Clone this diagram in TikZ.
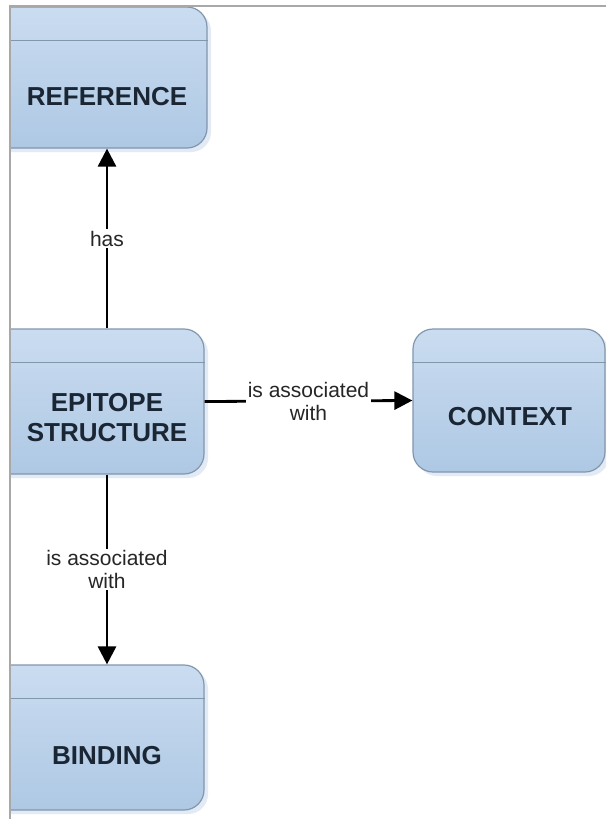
\documentclass[tikz,border=0pt]{standalone}
\usepackage{fontspec}
\setmainfont{Liberation Sans}
\usetikzlibrary{shadows,arrows.meta}
\definecolor{boxtop}{HTML}{CADCF0}
\definecolor{boxbot}{HTML}{AEC8E4}
\definecolor{boxedge}{HTML}{8296AD}
\definecolor{shadowc}{HTML}{E2EBF5}
\definecolor{textc}{HTML}{1B2634}
\definecolor{framec}{HTML}{A8A8A8}
\begin{document}
\begin{tikzpicture}[x=1pt,y=-1pt,
  box/.style={draw=boxedge, line width=1.2pt, rounded corners=20pt,
    top color=boxtop, bottom color=boxbot, inner sep=0pt,
    drop shadow={shadow xshift=4pt, shadow yshift=-4pt, fill=shadowc, opacity=1}},
  divider/.style={draw=boxedge, line width=1.2pt},
  title/.style={font=\fontsize{26}{30}\selectfont\bfseries, text=textc, align=center, inner sep=0pt},
  lab/.style={font=\fontsize{21}{23}\selectfont, text=black!85, fill=white, inner sep=1.5pt, align=center},
  conn/.style={line width=2.8pt, -{Triangle[length=18pt,width=18pt]}}]
\useasboundingbox (0,0) rectangle (606,819);
\fill[white] (0,0) rectangle (606,819);
\begin{scope}
\clip (10,6) rectangle (606,819);
\node[box, minimum width=219pt, minimum height=141pt] (ref) at (97.5,77.5) {};
\node[box, minimum width=216pt, minimum height=145pt] (epi) at (96,401.5) {};
\node[box, minimum width=192pt, minimum height=143pt] (ctx) at (509,400.5) {};
\node[box, minimum width=216pt, minimum height=145pt] (bind) at (96,737.5) {};
\foreach \b in {ref,epi,ctx,bind}{
  \draw[divider] ([yshift=-34pt]\b.north west) -- ([yshift=-34pt]\b.north east);
}
\end{scope}
\node[title] (refT) at (107,97) {REFERENCE};
\node[title] (epiT) at (107,418) {EPITOPE\\STRUCTURE};
\node[title] (ctxT) at (510,417) {CONTEXT};
\node[title] (bindT) at (107,756) {BINDING};
\draw[conn] (epiT |- epi.north) -- node[lab] {has} (refT |- ref.south);
\draw[conn] (epi.east) -- node[lab] {is associated\\with} (ctx.west);
\draw[conn] (epiT |- epi.south) -- node[lab] {is associated\\with} (bindT |- bind.north);
\draw[framec, line width=1.5pt] (10,819) -- (10,6) -- (606,6);
\end{tikzpicture}
\end{document}
